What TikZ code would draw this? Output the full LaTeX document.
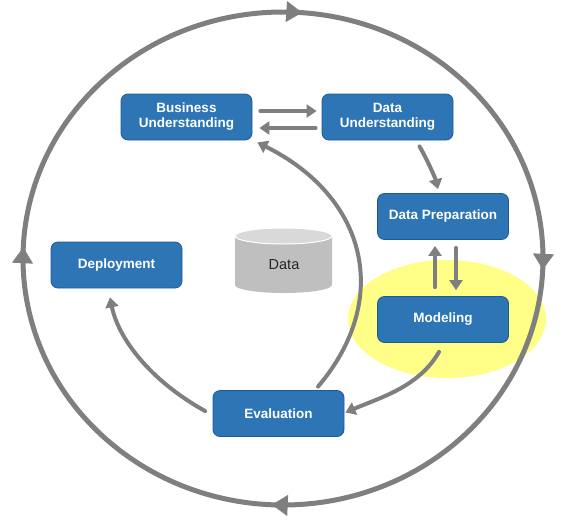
\documentclass[tikz,border=0pt]{standalone}
\usepackage{fontspec}
\setmainfont{Liberation Sans}
\usetikzlibrary{arrows.meta,decorations.markings,calc}
\definecolor{boxblue}{HTML}{2E75B6}
\definecolor{boxedge}{HTML}{1F5A96}
\definecolor{arrgray}{HTML}{7F7F7F}
\definecolor{hilite}{HTML}{FFFF88}
\definecolor{cyltop}{HTML}{D9D9D9}
\definecolor{cylbody}{HTML}{BFBFBF}
\begin{document}
\begin{tikzpicture}[x=1pt,y=-1pt,
  phase/.style={draw=boxedge, line width=0.8pt, fill=boxblue, rounded corners=7pt,
    minimum width=131pt, minimum height=46pt, inner sep=0pt, text=white, align=center,
    font=\fontsize{13.5}{15}\selectfont\bfseries},
  flow/.style={draw=arrgray, line width=4pt, line cap=round, -{Triangle[length=10pt,width=13pt]}},
  outerloop/.style={draw=arrgray, line width=5pt, postaction=decorate,
    decoration={markings,
      mark=at position 0.13 with {\arrow[arrgray]{Triangle[length=16pt,width=20pt]}},
      mark=at position 0.38 with {\arrow[arrgray]{Triangle[length=16pt,width=20pt]}},
      mark=at position 0.63 with {\arrow[arrgray]{Triangle[length=16pt,width=20pt]}},
      mark=at position 0.885 with {\arrow[arrgray]{Triangle[length=16pt,width=20pt]}}}}]
\useasboundingbox (0,0) rectangle (567,522);

% highlight behind Modeling
\fill[hilite] (447,319) ellipse [x radius=99, y radius=59];

% outer cycle
\coordinate (loopc) at (283,258.5);
\draw[outerloop] ($(loopc)+(183.85,-174.3)$) arc[start angle=-45, end angle=315, x radius=260, y radius=246.5];

% phases
\node[phase] (bu) at (186.5,117) {Business\\Understanding};
\node[phase] (du) at (387.5,117) {Data\\Understanding};
\node[phase] (dp) at (443,216.5) {Data Preparation};
\node[phase] (mo) at (443,319.5) {Modeling};
\node[phase] (ev) at (278.5,413.5) {Evaluation};
\node[phase] (de) at (116.5,265) {Deployment};

% data cylinder
\fill[cylbody] (235,236) -- (235,285) arc[start angle=180, end angle=0, x radius=48.5, y radius=8] -- (332,236) -- cycle;
\filldraw[fill=cyltop, draw=white, line width=1pt] (283.5,236) ellipse [x radius=48.5, y radius=8];
\node[font=\fontsize{14.5}{16}\selectfont, text=black!85] (data) at (284,265) {Data};

% connectors
\draw[flow] ($(bu.east)+(8,-6)$) -- ($(du.west)+(-5,-6)$);
\draw[flow] ($(du.west)+(-6,11)$) -- ($(bu.east)+(7,11)$);
\draw[flow] ($(du.south)+(32,6)$) .. controls +(6,10) and +(-3,-12) .. ($(dp.north)+(-5,-4)$);
\draw[flow] ($(mo.north)+(-8,-9)$) -- ($(dp.south)+(-8,6)$);
\draw[flow] ($(dp.south)+(13,8)$) -- ($(mo.north)+(13,-6)$);
\draw[flow] ($(mo.south)+(-4,9)$) .. controls +(-20,35) and +(35,-15) .. ($(ev.east)+(1,-1)$);
\draw[flow] ($(ev.north)+(39.5,-3.5)$) .. controls +(74,-87) and +(110,55) .. ($(bu.south east)+(5,2)$);
\draw[flow] ($(ev.west)+(-7.5,-2.5)$) .. controls +(-56,-31) and +(8,40) .. ($(de.south)+(-6.5,9)$);
\end{tikzpicture}
\end{document}
